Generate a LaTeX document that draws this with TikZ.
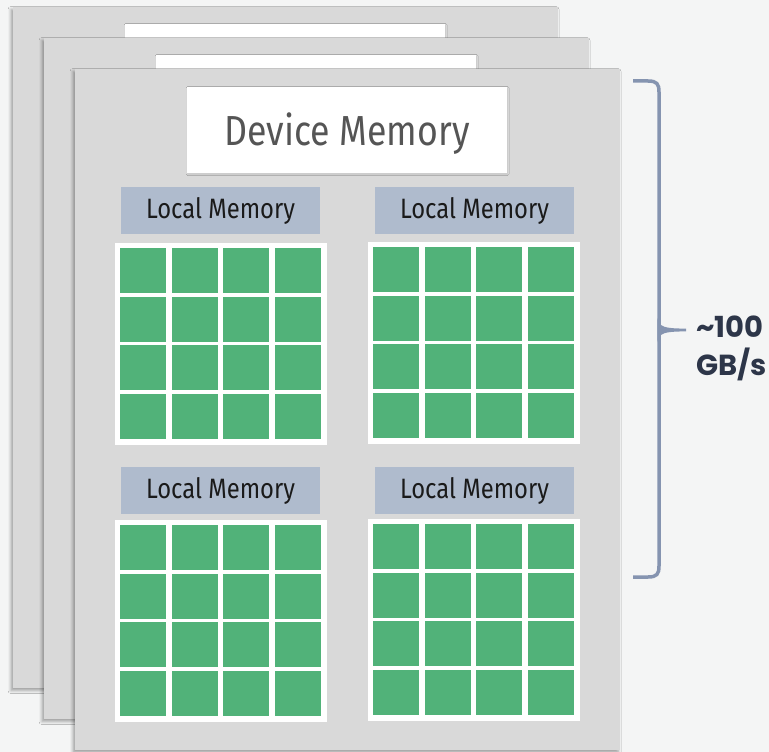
\documentclass[tikz,border=0pt]{standalone}
\usepackage{fontspec}
\usetikzlibrary{shadows.blur}
\newfontfamily\condfont[FakeStretch=0.85]{Fira Sans}
\newfontfamily\poppfont{Poppins}
\definecolor{bgcol}{HTML}{F4F5F5}
\definecolor{sheetgray}{HTML}{D9D9D9}
\definecolor{labelcol}{HTML}{AFBBCD}
\definecolor{cellgreen}{HTML}{51B279}
\definecolor{bracecol}{HTML}{8594B0}
\definecolor{navy}{HTML}{2D3649}
\definecolor{devtext}{HTML}{555555}
\definecolor{loctext}{HTML}{1A1A1A}
\begin{document}
\begin{tikzpicture}[x=1pt,y=-1pt,
  every node/.style={inner sep=0pt, outer sep=0pt},
  sheet/.style={fill=sheetgray, anchor=north west, minimum width=545pt, minimum height=681pt,
    blur shadow={shadow xshift=-2pt, shadow yshift=-2.5pt, shadow blur radius=3pt, shadow opacity=35}},
  devbox/.style={fill=white, anchor=north west, minimum width=320pt, minimum height=86pt,
    blur shadow={shadow xshift=0.5pt, shadow yshift=-1pt, shadow blur radius=1.5pt, shadow opacity=8}},
  locbox/.style={fill=labelcol, anchor=north west, minimum width=199pt, minimum height=47pt,
    font=\condfont\fontsize{28}{30}\selectfont, text=loctext},
  gridbox/.style={fill=white, anchor=north west, minimum width=212pt, minimum height=202pt},
  bwtext/.style={anchor=base west, font=\poppfont\bfseries\fontsize{29}{31}\selectfont, text=navy}
]
\fill[bgcol] (0,0) rectangle (769,752);
\useasboundingbox (0,0) rectangle (769,752);

% back sheet 1
\node[sheet] (sheetA) at (13,7) {};
\node[devbox] (devA) at (125,24) {};
% back sheet 2
\node[sheet] (sheetB) at (44,38) {};
\node[devbox] (devB) at (156,55) {};
% front sheet
\node[sheet] (sheetC) at (75,69) {};
\node[devbox] (devC) at (187,87) {};
\node[font=\condfont\fontsize{42}{44}\selectfont, text=devtext, anchor=base] (devT) at (347,145) {Device Memory};

% local memory labels
\node[locbox] (locA) at (121,187) {Local Memory};
\node[locbox] (locB) at (375,187) {Local Memory};
\node[locbox] (locC) at (121,467) {Local Memory};
\node[locbox] (locD) at (375,467) {Local Memory};

% grids
\foreach \gx/\gy/\n in {115/243/A, 368/242/B, 115/520/C, 368/519/D} {
  \node[gridbox] (grid\n) at (\gx,\gy) {};
  \foreach \i in {0,...,3} {
    \foreach \j in {0,...,3} {
      \fill[cellgreen] (\gx+5+51.7*\i, \gy+5+48.7*\j) rectangle ++(46,45);
    }
  }
}

% brace
\coordinate (bt) at (633,81);
\coordinate (bb) at (633,577);
\draw[bracecol, line width=3.5pt] (bt) -- (648,81) .. controls (657,81) and (659,84) .. (659,92)
   -- (659,566) .. controls (659,574) and (657,577) .. (648,577) -- (bb);
\fill[bracecol] (657.3,318) .. controls (659,327) and (664,328.5) .. (686,328.6)
   -- (686,331.4) .. controls (664,331.5) and (659,333) .. (657.3,342) -- cycle;

\node[bwtext] (bw1) at (696,337) {\char`~100};
\node[bwtext] (bw2) at (696,375) {GB/s};
\end{tikzpicture}
\end{document}
